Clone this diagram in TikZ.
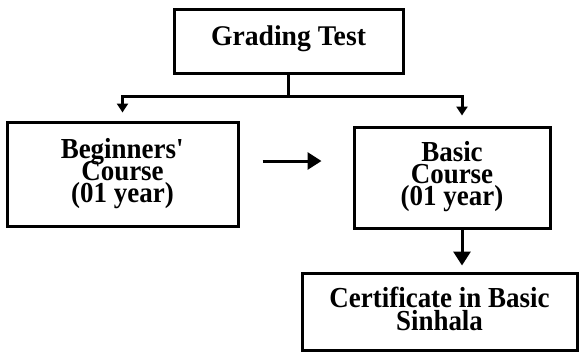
\documentclass[tikz,border=0pt]{standalone}
\usepackage{fontspec}
\setmainfont[FakeStretch=0.93]{Liberation Serif}
\newfontfamily\gradefont[FakeStretch=0.97]{Liberation Serif}
\usepackage{tikz}
\usetikzlibrary{arrows.meta}
\usetikzlibrary{calc}
\newcommand\tightlines{\lineskiplimit=-40pt\relax}
\tikzstyle{box} = [rectangle, line width=3pt, draw = black, align=center, font=\bfseries\fontsize{29}{22}\selectfont\tightlines, inner sep=0pt]
\tikzstyle{line} = [line width=3pt]
\tikzstyle{arrow} = [line, -{Triangle[length=14pt,width=17pt]}]
\tikzstyle{sarrow} = [line, -{Triangle[length=9pt,width=11pt]}]

\begin{document}
\begin{tikzpicture}[x=1pt,y=-1pt]
	\useasboundingbox (0,0) rectangle (579,359);
	\node (grade) [box, minimum width=229pt, minimum height=64pt, text depth=11pt, font=\gradefont\bfseries\fontsize{28.5}{22}\selectfont] at (288.5,41) {Grading Test};
	\node (begin) [box, minimum width=231pt, minimum height=104pt, text depth=8pt] at (122.5,174) {Beginners\textquotesingle\\Course\\(01 year)};
	\node (basic) [box, minimum width=196pt, minimum height=101pt, text depth=9pt] at (452,177.5) {Basic\\Course\\(01 year)};
	\node (cert) [box, minimum width=275pt, minimum height=77pt, text depth=6pt, font=\bfseries\fontsize{29}{23}\selectfont\tightlines] at (439.5,311.5) {Certificate in Basic\\Sinhala};
	\coordinate (split) at ($(grade.south)+(0,22)$);
	\draw [sarrow, shorten >=8pt] (grade.south) -- (split) -| (begin.north);
	\draw [sarrow, shorten >=10pt] (grade.south) -- (split) -| ([xshift=10pt]basic.north);
	\draw [arrow] ($(begin.east)+(23,-13)$) -- ($(basic.west)+(-31,-16.5)$);
	\draw [arrow, shorten >=6pt] ([xshift=10pt]basic.south) -- ([xshift=10pt]basic.south |- cert.north);
\end{tikzpicture}
\end{document}
